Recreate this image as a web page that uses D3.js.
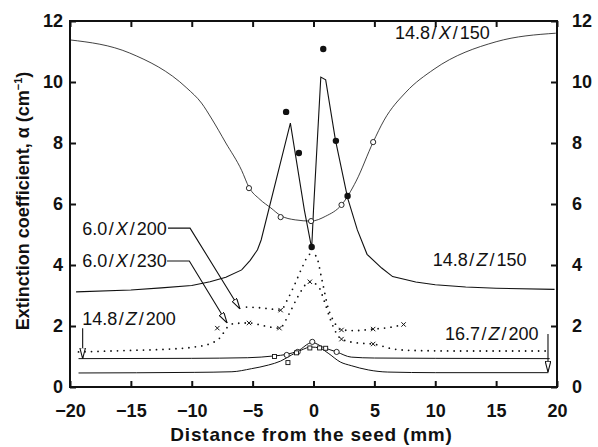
<!DOCTYPE html>
<html>
<head>
<meta charset="utf-8">
<script src="https://cdn.jsdelivr.net/npm/d3@7"></script>
<style>
  body { margin: 0; background: #fff; }
  text { font-family: "Liberation Sans", Arial, sans-serif; fill: #111; }
  .tick text { font-size: 18px; font-weight: bold; }
  .series-label { font-size: 18px; }
</style>
</head>
<body>
<div id="chart"></div>
<script>
// axis ticks
var xTicks = [-20, -15, -10, -5, 0, 5, 10, 15, 20];
var yTicks = [0, 2, 4, 6, 8, 10, 12];

// 14.8/X/150 - thin curve with open circles
var x150Curve = [[-20, 11.38], [-15.1, 10.95], [-10.4, 9.8], [-9.2, 9.31], [-8.4, 8.82], [-7.2, 8.0],
    [-5.9, 7.1], [-5.3, 6.55], [-4.4, 6.15], [-3.5, 5.87], [-2.7, 5.62], [-1.5, 5.48], [-0.2, 5.44],
    [1.0, 5.6], [2.3, 5.97], [3.5, 6.75], [4.9, 8.03], [5.8, 8.75], [7.6, 9.67], [9.9, 10.42],
    [15, 11.32], [19.9, 11.6]];
var x150Circles = [[-5.3, 6.52], [-2.7, 5.57], [-0.2, 5.44], [2.3, 5.97], [4.9, 8.03]];

// 14.8/Z/150 - peaked curve with filled dots
var z150Curve = [[-19.5, 3.12], [-15, 3.18], [-12.5, 3.25], [-10, 3.33], [-8.5, 3.45], [-7.2, 3.6],
    [-5.9, 3.84], [-5.2, 4.15], [-4.6, 4.5], [-4.3, 4.82], [-1.9, 8.65], [-0.75, 5.8], [-0.15, 4.55],
    [0.0, 5.8], [0.6, 10.16], [1.0, 10.07], [1.8, 8.1], [2.8, 6.2], [3.6, 5.15], [4.4, 4.35],
    [5.6, 3.9], [6.5, 3.62], [8.4, 3.44], [10, 3.35], [12.5, 3.28], [15, 3.24], [19.8, 3.2]];
var z150Dots = [[-2.25, 9.02], [-1.2, 7.67], [-0.15, 4.59], [0.8, 11.08], [1.84, 8.07], [2.8, 6.26]];

// 6.0/X/200 - upper dotted curve
var x200Curve = [[-5.5, 2.62], [-4.5, 2.6], [-3.5, 2.56], [-2.7, 2.52], [-2.1, 2.9], [-1.5, 3.4],
    [-0.9, 3.95], [-0.3, 4.35], [0.2, 4.3], [0.7, 3.5], [1.2, 2.6], [1.7, 2.13], [2.3, 1.87],
    [3.5, 1.85], [4.9, 1.9], [6.2, 1.95], [7.4, 2.05]];
var x200Marks = [[-2.7, 2.52], [2.3, 1.87], [4.9, 1.9], [7.4, 2.05]];

// 6.0/X/230 - lower dotted curve
var x230Curve = [[-19.3, 1.15], [-15, 1.2], [-12, 1.24], [-10, 1.3], [-8.5, 1.42], [-7.6, 1.65],
    [-7.1, 1.95], [-6.5, 2.08], [-5.3, 2.1], [-4, 2.0], [-2.8, 1.93], [-2.0, 2.4], [-1.3, 2.95],
    [-0.3, 3.45], [0.4, 3.3], [0.9, 2.8], [1.4, 2.2], [1.9, 1.75], [2.3, 1.57], [3.7, 1.44],
    [4.9, 1.41], [6.5, 1.25], [8, 1.2], [12, 1.18], [19.4, 1.18]];
var x230Marks = [[-7.9, 1.93], [-5.3, 2.1], [-2.8, 1.93], [-0.3, 3.45], [2.3, 1.57], [4.9, 1.41]];

// 14.8/Z/200 - solid curve with open circles
var z200Curve = [[-19.3, 0.93], [-10, 0.94], [-5.4, 0.96], [-3.2, 1.02], [-2.2, 1.07], [-1.3, 1.18],
    [-0.1, 1.46], [0.8, 1.3], [1.9, 1.15], [3.1, 0.98], [5, 0.95], [10, 0.94], [19.4, 0.93]];
var z200Circles = [[-2.2, 1.05], [-1.3, 1.15], [-0.1, 1.48], [1.9, 1.15]];

// 16.7/Z/200 - lowest solid curve with squares
var z167Curve = [[-19.3, 0.46], [-9.8, 0.48], [-6.7, 0.5], [-5.1, 0.6], [-3.7, 0.72], [-2.7, 0.85],
    [-1.8, 1.05], [-1.0, 1.21], [-0.2, 1.31], [0.5, 1.28], [1.2, 1.11], [2.2, 0.82], [3.1, 0.7],
    [4.5, 0.56], [6.1, 0.49], [10, 0.47], [19.3, 0.47]];
var z167Squares = [[-3.2, 1.0], [-2.1, 0.8], [-1.4, 1.12], [-0.3, 1.28], [0.5, 1.28], [1.0, 1.27]];

// labels: name split at the italic letter, anchor in data units
var seriesLabels = [
    {pre: "14.8", it: "X", post: "150", x: 6.7, y: 11.41},
    {pre: "14.8", it: "Z", post: "150", x: 9.8, y: 3.97},
    {pre: "6.0", it: "X", post: "200", x: -19.0, y: 4.98},
    {pre: "6.0", it: "X", post: "230", x: -19.0, y: 3.93},
    {pre: "14.8", it: "Z", post: "200", x: -19.0, y: 2.03},
    {pre: "16.7", it: "Z", post: "200", x: 10.8, y: 1.54}
];
// leader lines ending in an open arrowhead
var leaders = [
    [[-11.95, 5.21], [-10.14, 5.21], [-6.04, 2.56]],
    [[-12.03, 4.13], [-10.2, 4.13], [-7.1, 2.1]],
    [[-18.96, 1.93], [-18.96, 0.93]],
    [[19.26, 1.74], [19.26, 0.49]]
];

var width = 598, height = 447;

var svg = d3.select("#chart").append("svg")
    .attr("width", width)
    .attr("height", height);

var x = d3.scaleLinear().domain([-20, 20]).range([70, 557]);
var y = d3.scaleLinear().domain([0, 12]).range([387, 21]);

svg.append("defs").append("marker")
    .attr("id", "arrow")
    .attr("viewBox", "0 0 10 6")
    .attr("refX", 10)
    .attr("refY", 3)
    .attr("markerUnits", "userSpaceOnUse")
    .attr("markerWidth", 11)
    .attr("markerHeight", 6.5)
    .attr("orient", "auto")
    .append("path")
    .attr("d", "M0,0.4 L10,3 L0,5.6 Z")
    .attr("fill", "#fff")
    .attr("stroke", "#111")
    .attr("stroke-width", 1);

// axes
function styleAxis(g) {
    g.select(".domain").remove();
    g.selectAll(".tick line").attr("stroke", "#111").attr("stroke-width", 2);
}

svg.append("g")
    .attr("transform", "translate(0," + y(0) + ")")
    .call(d3.axisBottom(x).tickValues(xTicks).tickSize(-6).tickPadding(17).tickSizeOuter(0))
    .call(styleAxis);

svg.append("g")
    .attr("transform", "translate(0," + y(12) + ")")
    .call(d3.axisTop(x).tickValues(xTicks).tickSize(-6).tickFormat("").tickSizeOuter(0))
    .call(styleAxis);

svg.append("g")
    .attr("transform", "translate(" + x(-20) + ",0)")
    .call(d3.axisLeft(y).tickValues(yTicks).tickSize(-6).tickPadding(7).tickSizeOuter(0))
    .call(styleAxis);

svg.append("g")
    .attr("transform", "translate(" + x(20) + ",0)")
    .call(d3.axisRight(y).tickValues(yTicks).tickSize(-6).tickPadding(15).tickSizeOuter(0))
    .call(styleAxis);

svg.selectAll(".tick text").attr("fill", "#111");

// frame
svg.append("rect")
    .attr("x", x(-20))
    .attr("y", y(12))
    .attr("width", x(20) - x(-20))
    .attr("height", y(0) - y(12))
    .attr("fill", "none")
    .attr("stroke", "#111")
    .attr("stroke-width", 2);

// axis titles
svg.append("text")
    .attr("x", (x(-20) + x(20)) / 2 - 2)
    .attr("y", 441)
    .attr("text-anchor", "middle")
    .style("font-size", "19px")
    .style("font-weight", "bold")
    .style("letter-spacing", "0.8px")
    .text("Distance from the seed (mm)");

var yTitle = svg.append("text")
    .attr("transform", "translate(29,201) rotate(-90)")
    .attr("text-anchor", "middle")
    .style("font-size", "18px")
    .style("font-weight", "bold");
yTitle.append("tspan").text("Extinction coefficient, \u03b1 (cm");
yTitle.append("tspan").attr("dy", -7).style("font-size", "11px").text("\u22121");
yTitle.append("tspan").attr("dy", 7).text(")");

// curves
var line = d3.line()
    .x(function(d) { return x(d[0]); })
    .y(function(d) { return y(d[1]); });
var smooth = d3.line()
    .x(function(d) { return x(d[0]); })
    .y(function(d) { return y(d[1]); })
    .curve(d3.curveMonotoneX);

var plot = svg.append("g");

function drawCurve(data, gen, w, dash) {
    var p = plot.append("path")
        .attr("d", gen(data))
        .attr("fill", "none")
        .attr("stroke", "#111")
        .attr("stroke-width", w);
    if (dash) {
        p.attr("stroke-dasharray", dash).attr("stroke-linecap", "round");
    }
}

drawCurve(x150Curve, smooth, 0.8);
drawCurve(z150Curve, line, 1.1);
drawCurve(z200Curve, smooth, 1.0);
drawCurve(z167Curve, smooth, 1.0);
drawCurve(x200Curve, smooth, 1.8, "0 6.5");
drawCurve(x230Curve, smooth, 1.8, "0 6.5");

// markers
plot.selectAll(".open-circle")
    .data(x150Circles.concat(z200Circles))
    .enter().append("circle")
    .attr("class", "open-circle")
    .attr("cx", function(d) { return x(d[0]); })
    .attr("cy", function(d) { return y(d[1]); })
    .attr("r", 2.6)
    .attr("fill", "#fff")
    .attr("stroke", "#111")
    .attr("stroke-width", 0.9);

plot.selectAll(".dot")
    .data(z150Dots)
    .enter().append("circle")
    .attr("class", "dot")
    .attr("cx", function(d) { return x(d[0]); })
    .attr("cy", function(d) { return y(d[1]); })
    .attr("r", 3.2)
    .attr("fill", "#111");

plot.selectAll(".square")
    .data(z167Squares)
    .enter().append("rect")
    .attr("class", "square")
    .attr("x", function(d) { return x(d[0]) - 2; })
    .attr("y", function(d) { return y(d[1]) - 2; })
    .attr("width", 4)
    .attr("height", 4)
    .attr("fill", "#fff")
    .attr("stroke", "#111")
    .attr("stroke-width", 0.9);

plot.selectAll(".cross")
    .data(x200Marks.concat(x230Marks))
    .enter().append("path")
    .attr("class", "cross")
    .attr("d", function(d) {
        var cx = x(d[0]), cy = y(d[1]), s = 2.2;
        return "M" + (cx - s) + "," + (cy - s) + "L" + (cx + s) + "," + (cy + s) +
            "M" + (cx - s) + "," + (cy + s) + "L" + (cx + s) + "," + (cy - s);
    })
    .attr("stroke", "#111")
    .attr("stroke-width", 1);

// leaders with open arrowheads
svg.selectAll(".leader")
    .data(leaders)
    .enter().append("path")
    .attr("class", "leader")
    .attr("d", line)
    .attr("fill", "none")
    .attr("stroke", "#111")
    .attr("stroke-width", 1.1)
    .attr("marker-end", "url(#arrow)");

// series labels
var labels = svg.selectAll(".series-label")
    .data(seriesLabels)
    .enter().append("text")
    .attr("class", "series-label")
    .attr("x", function(d) { return x(d.x); })
    .attr("y", function(d) { return y(d.y); });
labels.append("tspan").text(function(d) { return d.pre; });
labels.append("tspan").attr("dx", 1.5).text("/");
labels.append("tspan").attr("dx", 2).style("font-style", "italic").text(function(d) { return d.it; });
labels.append("tspan").attr("dx", 2).text("/");
labels.append("tspan").attr("dx", 2).text(function(d) { return d.post; });
</script>
</body>
</html>
